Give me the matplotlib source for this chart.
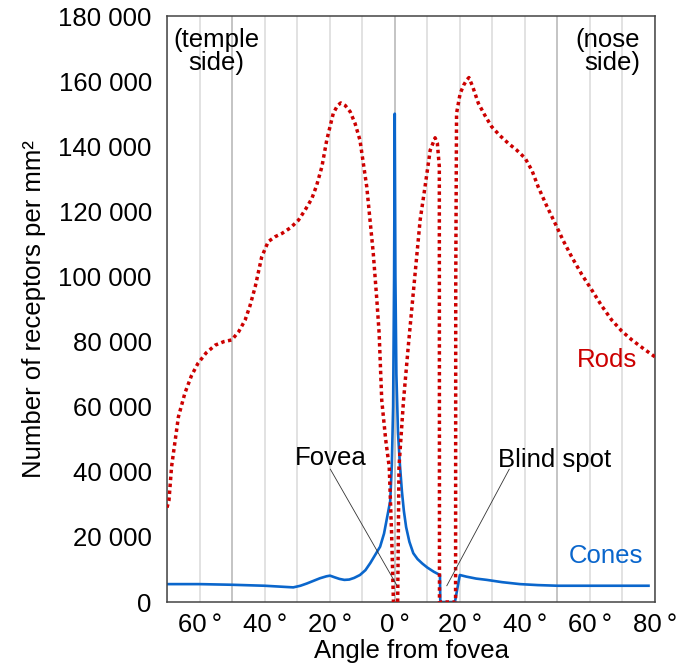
import matplotlib
matplotlib.use("Agg")
import matplotlib.pyplot as plt

plt.rcParams['font.family'] = ['Liberation Sans', 'DejaVu Sans']

# Rod density (receptors per mm²) vs angle from fovea (deg, temple side negative)
rod_angle = [-70, -69.4, -68.6, -66.5, -64.5, -62.5, -60.5, -58, -55.2, -52.5, -50.1,
             -48, -46, -44.5, -42.9, -40.9, -38.9, -36.8, -34.7, -32, -29.6, -27.5,
             -25.5, -24, -22.4, -20.9, -18.9, -17.6, -16.6, -15.2, -13.7, -12.2, -10.7,
             -8.6, -6.6, -5.5, -4.8, -4, -2.8, -1.7, -1, -0.4,
             0.9, 1.3, 2.7, 4.2, 5.7, 7.8, 9.3, 10.9, 12.4, 13.1, 13.7,
             13.75, 18.7, 18.75, 19.0, 20.1, 21.2, 22.1, 22.8, 24, 25.7, 27.7,
             29.8, 32.3, 34.9, 37.5, 40.1, 42.2, 44.1, 46.7, 49.3, 51.8, 54.4,
             57.5, 60.6, 63.6, 66.7, 69.8, 72.9, 76.5, 80]
rod_density = [29000, 31300, 41600, 56900, 64200, 69500, 73300, 76500, 78900, 80000, 80500,
               83000, 86600, 91000, 96800, 106000, 110700, 112200, 113200, 115000, 117300, 120500,
               123900, 128000, 133700, 141900, 150100, 152500, 153300, 152500, 150600, 147000, 141900,
               127500, 107100, 92700, 82600, 62000, 50000, 41500, 22000, 0,
               0, 41500, 62000, 79000, 95000, 117300, 127500, 138800, 142600, 140900, 133700,
               0, 0, 98900, 150100, 156200, 158800, 160300, 161100, 158200, 153200, 149500,
               146000, 143300, 140900, 138800, 136300, 132500, 127500, 121700, 116300, 111000, 106000,
               100600, 95800, 91000, 86600, 83200, 80500, 77800, 75300]

# Cone density
cone_angle = [-70, -60, -50, -40, -31.2, -29, -27, -25, -23, -21, -19.9, -18.5, -17,
              -15.5, -14, -12.5, -10.7, -9, -7.5, -6, -4.5, -3.3, -2.5, -1.4, -0.9,
              -0.5, -0.2, 0,
              0.2, 0.5, 1.0, 1.6, 2.2, 2.8, 3.5, 4.5, 5.7, 7.0, 8.5, 10.0, 12.0, 13.9,
              14.0, 18.5, 20.0, 22, 25, 28.3, 33, 38.5, 44, 50.1, 60, 70, 78]
cone_density = [5500, 5500, 5300, 5000, 4500, 5000, 5700, 6500, 7300, 7900, 8100, 7600, 7100,
                6800, 6900, 7400, 8300, 9800, 12000, 14500, 17000, 21000, 25200, 31000, 42000,
                60000, 100000, 150000,
                100000, 70000, 52000, 42000, 34000, 28000, 23000, 18500, 15000, 13200, 11800,
                10600, 9300, 8300,
                0, 0, 8300, 7800, 7200, 6800, 6100, 5500, 5200, 5000, 5000, 5000, 5000]

x_ticks = [-60, -40, -20, 0, 20, 40, 60, 80]
y_ticks = [0, 20000, 40000, 60000, 80000, 100000, 120000, 140000, 160000, 180000]

rod_color = '#cc0000'
cone_color = '#0a66cc'

fig = plt.figure(figsize=(6.84, 6.65), dpi=100)
ax = fig.add_axes([0.2442, 0.0947, 0.7134, 0.8812])

# vertical grid: light every 10°, darker every 50°
for g in range(-70, 81, 10):
    if g % 50 == 0:
        ax.axvline(g, color='#c4c4c4', lw=1.4, zorder=0)
    else:
        ax.axvline(g, color='#e2e2e2', lw=1.4, zorder=0)

ax.plot(cone_angle, cone_density, color=cone_color, lw=1.9, zorder=2,
        solid_joinstyle='round')
ax.plot(rod_angle, rod_density, color=rod_color, lw=2.5, zorder=3,
        linestyle=(0, (1, 1)), dash_capstyle='butt')

ax.set_xlim(-70, 80)
ax.set_ylim(0, 180000)
ax.set_xticks(x_ticks)
ax.set_xticklabels([f"{abs(t)}\u2009°" for t in x_ticks])
ax.set_yticks(y_ticks)
ax.set_yticklabels([f"{t:,}".replace(',', ' ') for t in y_ticks])
ax.tick_params(axis='both', length=0, labelsize=18.5)
ax.tick_params(axis='y', pad=11)
ax.tick_params(axis='x', pad=8)
for s in ax.spines.values():
    s.set_color('#444444')
    s.set_linewidth(1.1)

ax.set_xlabel('Angle from fovea', fontsize=18.5, labelpad=1)
ax.set_ylabel('Number of receptors per mm²', fontsize=18.5, labelpad=9)

ax.text(-54.9, 169000, '(temple\nside)', fontsize=18.5, ha='center', va='center',
        multialignment='center', linespacing=0.95)
ax.text(75.4, 169000, '(nose\nside)', fontsize=18.5, ha='right', va='center',
        multialignment='right', linespacing=0.95)

ax.text(65.2, 72300, 'Rods', fontsize=18.5, color=rod_color, ha='center', va='baseline')
ax.text(65.0, 11900, 'Cones', fontsize=18.5, color=cone_color, ha='center', va='baseline')

ax.text(-19.8, 42000, 'Fovea', fontsize=18.5, ha='center', va='baseline')
ax.plot([-19.8, 0.6], [40800, 5200], color='#333333', lw=0.6, zorder=4)
ax.text(49.2, 41500, 'Blind spot', fontsize=18.5, ha='center', va='baseline')
ax.plot([35.2, 16.0], [40800, 5000], color='#333333', lw=0.6, zorder=4)

fig.savefig('out.png', dpi=100)
